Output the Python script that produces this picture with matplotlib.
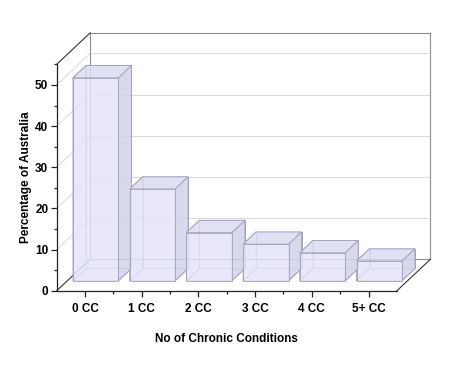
import numpy as np
import matplotlib.pyplot as plt
from matplotlib.patches import Polygon

plt.rcParams['font.family'] = ['Liberation Sans', 'DejaVu Sans']
plt.rcParams['font.weight'] = 'bold'

# data
categories = ['0 CC', '1 CC', '2 CC', '3 CC', '4 CC', '5+ CC']
percent = [49.3, 22.3, 11.7, 8.9, 6.8, 4.8]

y_max = 55
bar_w = 0.8
# oblique depth direction in pixels (right, up)
DX, DY = 33.5, 31.5
bar_front, bar_back = 0.32, 0.71

fig = plt.figure(figsize=(4.68, 3.70), dpi=100)
ax = fig.add_axes([0.121, 0.214, 0.727, 0.612])
ax.set_xlim(-0.5, len(categories) - 0.5)
ax.set_ylim(0, y_max)


def shift(x, y, d):
    # move a data point d (0..1) of the way into the depth
    px, py = ax.transData.transform((x, y))
    return ax.transData.inverted().transform((px + d * DX, py + d * DY))


def line(p, q, **kw):
    ax.plot([p[0], q[0]], [p[1], q[1]], clip_on=False, **kw)


x0, x1 = -0.5, len(categories) - 0.5
grid_kw = dict(color='#d9d9d9', lw=0.7, zorder=1)
wall_kw = dict(color='#8c8c8c', lw=0.8, zorder=1)
edge_kw = dict(color='#333333', lw=0.8, zorder=1)

# gridlines on back wall and left wall
for g in range(10, y_max, 10):
    line(shift(x0, g, 1), shift(x1, g, 1), **grid_kw)
    line((x0, g), shift(x0, g, 1), **grid_kw)

# back wall frame
line(shift(x0, 0, 1), shift(x0, y_max, 1), **wall_kw)
line(shift(x0, y_max, 1), shift(x1, y_max, 1), **wall_kw)
line(shift(x1, 0, 1), shift(x1, y_max, 1), **wall_kw)
line(shift(x0, 0, 1), shift(x1, 0, 1), **wall_kw)
line((x0, y_max), shift(x0, y_max, 1), **edge_kw)
line((x0, 0), shift(x0, 0, 1), **edge_kw)
line((x1, 0), shift(x1, 0, 1), **edge_kw)

edge_col = '#a0a0b8'
for i, v in enumerate(percent):
    xl, xr = i - bar_w / 2, i + bar_w / 2
    f = lambda x, y: shift(x, y, bar_front)
    b = lambda x, y: shift(x, y, bar_back)
    # hidden faces (edges only)
    hidden = [
        [b(xl, 0), b(xr, 0), b(xr, v), b(xl, v)],
        [f(xl, 0), b(xl, 0), b(xl, v), f(xl, v)],
        [f(xl, 0), f(xr, 0), b(xr, 0), b(xl, 0)],
    ]
    for pts in hidden:
        ax.add_patch(Polygon(pts, closed=True, facecolor='none', edgecolor=edge_col,
                             lw=0.7, zorder=2, clip_on=False))
    faces = [
        ([f(xr, 0), b(xr, 0), b(xr, v), f(xr, v)], '#d3d3ec'),
        ([f(xl, v), f(xr, v), b(xr, v), b(xl, v)], '#dcdcf3'),
        ([f(xl, 0), f(xr, 0), f(xr, v), f(xl, v)], '#e4e4fa'),
    ]
    for pts, col in faces:
        ax.add_patch(Polygon(pts, closed=True, facecolor=col, edgecolor=edge_col,
                             lw=0.7, alpha=0.85, zorder=3, clip_on=False))

# axes styling
for s in ['top', 'right']:
    ax.spines[s].set_visible(False)
for s in ['left', 'bottom']:
    ax.spines[s].set_color('#222222')
    ax.spines[s].set_linewidth(0.9)

ax.set_yticks(range(0, 51, 10))
ax.set_yticks(range(5, 56, 10), minor=True)
ax.set_xticks(range(len(categories)))
ax.set_xticklabels(categories)
ax.set_xticks(np.arange(0.5, len(categories) - 0.5, 1), minor=True)
ax.tick_params(axis='both', which='major', length=4, width=0.9, labelsize=8.5,
               color='#222222', pad=2)
ax.tick_params(axis='both', which='minor', length=2.5, width=0.9, color='#222222')
ax.tick_params(axis='x', pad=5)
for t in ax.get_xticklabels() + ax.get_yticklabels():
    t.set_fontweight('bold')

ax.set_xlabel('No of Chronic Conditions', fontsize=8.5, fontweight='bold', labelpad=13)
ax.set_ylabel('Percentage of Australia', fontsize=8.5, fontweight='bold', labelpad=2)

fig.savefig('out.png', dpi=100)
